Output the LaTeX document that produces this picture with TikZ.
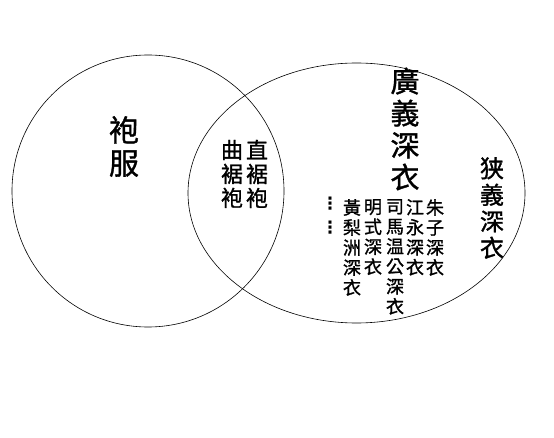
\documentclass[tikz,border=0pt]{standalone}
\usepackage{fontspec}
\newfontfamily\cjk[FakeBold=1.2]{Noto Sans CJK TC}
\newfontfamily\symfont{DejaVu Sans Bold}
\usetikzlibrary{
  positioning,
  shapes.geometric
}

\begin{document}
\begin{tikzpicture}[
    x=1pt, y=-1pt,
  every node/.style = {inner sep=0pt, align=center},
  ring/.style = {draw, line width=0.6pt},
  bigcol/.style = {font=\cjk\fontsize{30}{33}\selectfont},
  midcol/.style = {font=\cjk\fontsize{22}{24}\selectfont},
  tallcol/.style = {font=\cjk\fontsize{29}{32}\selectfont},
  narrowcol/.style = {font=\cjk\fontsize{24}{26.5}\selectfont},
  smallcol/.style = {font=\cjk\fontsize{18}{20}\selectfont, anchor=north}]
  \useasboundingbox (0,0) rectangle (554,438);
  % two sets
  \node[ring, circle, minimum size=272pt] (paofu) at (148,191) {};
  \node[ring, ellipse, minimum width=337pt, minimum height=260pt] (shenyi) at (356.5,193) {};
  % labels
  \node[bigcol] (robe) at (124,146.5) {袍\\服};
  \node[midcol] (zhiju) at (257,174) {直\\裾\\袍};
  \node[midcol] (quju) at (232,174) {曲\\裾\\袍};
  \node[tallcol] (broad) at (405,129) {廣\\義\\深\\衣};
  \node[narrowcol] (narrow) at (492,208) {狭\\義\\深\\衣};
  % examples, right to left
  \node[smallcol] (zhuzi) at (435,199) {朱\\子\\深\\衣};
  \node[smallcol] (jiangyong) at (415,199) {江\\永\\深\\衣};
  \node[smallcol] (sima) at (395,199) {司\\馬\\温\\公\\深\\衣};
  \node[smallcol] (mingshi) at (373,199) {明\\式\\深\\衣};
  \node[smallcol] (huang) at (352,199) {黃\\梨\\洲\\深\\衣};
  \node[font=\symfont\fontsize{17}{24}\selectfont, anchor=north] (dots) at (330,197) {⋮\\⋮};
\end{tikzpicture}
\end{document}
